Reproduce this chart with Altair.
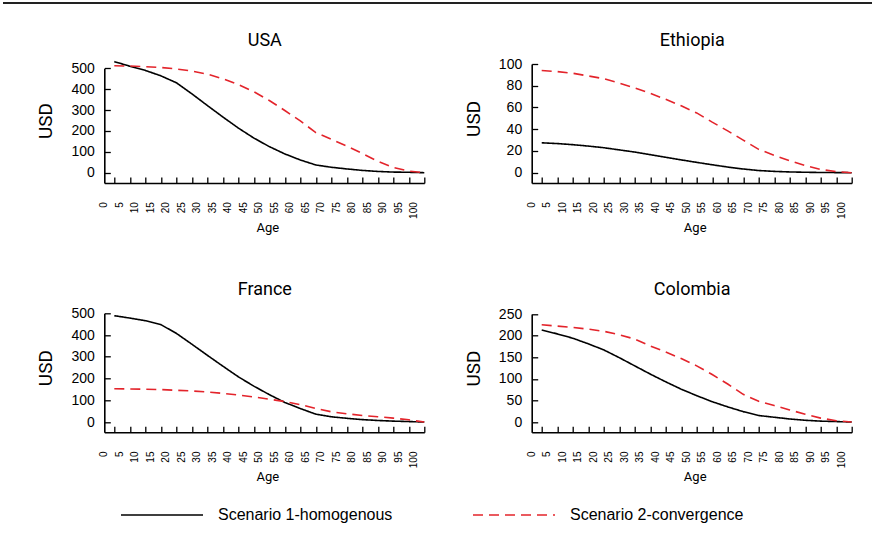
import altair as alt
import pandas as pd

# Age groups (x positions of every point and every x tick)
ages = [0, 5, 10, 15, 20, 25, 30, 35, 40, 45, 50, 55, 60, 65, 70, 75, 80, 85, 90, 95, 100]
scenarios = ["Scenario 1-homogenous", "Scenario 2-convergence"]

# USD by age, per country and scenario
usa_s1 = [532, 510, 490, 464, 431, 378, 322, 267, 214, 166, 125, 90, 61, 37, 26, 18, 11, 6, 3, 2, 0]
usa_s2 = [512, 511, 508, 504, 497, 487, 472, 450, 422, 388, 346, 298, 248, 192, 160, 128, 92, 55, 25, 8, 0]
eth_s1 = [27.5, 26.8, 25.8, 24.5, 23.0, 21.0, 19.0, 16.6, 14.2, 11.8, 9.5, 7.3, 5.2, 3.4, 2.0, 1.2, 0.7, 0.4, 0.2, 0.1, 0.0]
eth_s2 = [94, 93, 91.5, 89, 86.5, 82.5, 78, 73, 67.5, 61.5, 55, 46.5, 38.5, 30, 21.5, 16, 11, 6.5, 3, 1, 0]
fra_s1 = [489, 478, 466, 448, 408, 358, 307, 257, 208, 165, 126, 90, 62, 36, 24, 17, 11, 7, 4, 2, 0]
fra_s2 = [153, 152, 151, 149, 146, 143, 138, 132, 124, 115, 105, 94, 80, 62, 47, 38, 30, 24, 18, 10, 0]
col_s1 = [213, 204, 194, 181, 167, 149, 130, 111, 93, 76, 61, 47, 35, 24, 15, 11, 7, 4, 2, 1, 0]
col_s2 = [225, 222, 219, 215, 210, 202, 192, 176, 162, 147, 130, 110, 88, 64, 48, 38, 28, 18, 9, 3, 0]

countries = ["USA", "Ethiopia", "France", "Colombia"]
y_tops = [500, 100, 500, 250]
y_steps = [100, 20, 100, 50]

# Layout, in pixels
W, H = 320, 119          # plot area of each panel
X_GAP = 10               # y axis line to the first x tick
Y_GAP = 10.3             # y = 0 to the x axis line
LEFT, TOP = 104.3, 64    # top-left corner of the first panel
COL_SPACING = 107.4
ROW_SPACING = 130.3
TOP_TICK_PX = [4.3, 0, 0, 0.7]  # pixel position of the highest y tick

SANS = "Liberation Sans, Arial, sans-serif"
HEAD = "Roboto, Liberation Sans, sans-serif"
RED = "#e3242b"

x_per = (W - X_GAP) / 100.0
x_lo = -X_GAP / x_per

legend = alt.Legend(
    title=None, orient="none", legendX=120 - LEFT, legendY=515 - TOP - 42,
    direction="horizontal", symbolType="stroke", symbolSize=82 * 82,
    symbolStrokeWidth=1.5, labelFontSize=16, labelFont=SANS, labelOffset=14,
    labelLimit=400, columnPadding=77, padding=0, labelColor="#000",
)
color = alt.Color("Scenario:N", scale=alt.Scale(domain=scenarios, range=["#000000", RED]), legend=legend)
dash = alt.StrokeDash("Scenario:N", scale=alt.Scale(domain=scenarios, range=[[1, 0], [10, 6]]), legend=legend)


def panel(name, s1, s2, top, step, top_px):
    n = len(ages)
    df = pd.DataFrame({
        "Age": ages + ages,
        "USD": s1 + s2,
        "Scenario": [scenarios[0]] * n + [scenarios[1]] * n,
    })
    y0 = H - Y_GAP
    y_lo = -Y_GAP * top / (y0 - top_px)
    yticks = list(range(0, top + 1, step))
    xs = alt.Scale(domain=[x_lo, 100], nice=False, zero=False)
    ys = alt.Scale(domain=[y_lo, top], range=[H, top_px], nice=False, zero=False)
    base = alt.Chart(df)

    # inward ticks and axis lines (plus the panel title)
    frame = base.mark_line(opacity=0).encode(
        x=alt.X("Age:Q", scale=xs, axis=alt.Axis(
            orient="top", offset=-H, values=ages, labels=False, ticks=True,
            tickSize=6, domain=True, grid=False, title=name, titleX=W / 2,
            titleY=-H - 19, titleAlign="center", titleBaseline="alphabetic",
            titleAngle=0, titleFont=HEAD, titleFontSize=18,
            titleFontWeight="normal")),
        y=alt.Y("USD:Q", scale=ys, axis=alt.Axis(
            orient="right", offset=-W, values=yticks, labels=False,
            tickSize=6, domain=True, grid=False, title=None)),
        detail="Scenario:N",
    )

    # the two scenario curves, with the labelled axes
    lines = base.mark_line(strokeWidth=1.6).encode(
        x=alt.X("Age:Q", scale=xs, axis=alt.Axis(
            orient="bottom", values=ages, ticks=False, tickSize=0, domain=False,
            grid=False, labelAngle=270, labelPadding=18.7, labelOffset=-10.7,
            labelFontSize=10, labelFlush=False, labelOverlap=False,
            title="Age", titleX=W / 2 + 3, titleY=48, titleFontSize=13,
            titleFont=HEAD, titleFontWeight="normal", titleBaseline="alphabetic")),
        y=alt.Y("USD:Q", scale=ys, axis=alt.Axis(
            orient="left", values=yticks, ticks=False, tickSize=0, domain=False,
            grid=False, labelPadding=10, labelFontSize=14, labelFlush=False,
            title="USD", titleX=-58.5, titleY=(top_px + y0) / 2, titleAngle=270,
            titleAlign="center", titleBaseline="middle", titleFont=HEAD,
            titleFontSize=19, titleFontWeight="normal")),
        color=color,
        strokeDash=dash,
    )
    return frame, lines


series = [(usa_s1, usa_s2), (eth_s1, eth_s2), (fra_s1, fra_s2), (col_s1, col_s2)]
panels = []
for i, name in enumerate(countries):
    frame, lines = panel(name, series[i][0], series[i][1], y_tops[i], y_steps[i], TOP_TICK_PX[i])
    layers = [frame, lines]
    if i == 0:
        # page rule along the top edge of the figure
        edge = alt.Chart(pd.DataFrame({"edge": [0]})).mark_rule(color="#222", strokeWidth=2).encode(
            x=alt.value(3 - LEFT), x2=alt.value(872 - LEFT), y=alt.value(3 - TOP))
        layers.append(edge)
    panels.append(
        alt.layer(*layers)
        .resolve_axis(x="independent", y="independent")
        .properties(width=W, height=H)
    )

chart = (
    alt.concat(*panels, columns=2, spacing={"row": ROW_SPACING, "column": COL_SPACING}, bounds="flush")
    .properties(
        padding={"left": LEFT, "top": TOP, "right": 872 - LEFT, "bottom": 548 - TOP},
        autosize=alt.AutoSizeParams(type="none"),
    )
    .configure_view(stroke=None)
    .configure_axis(
        domainColor="#000", tickColor="#000", labelColor="#000", titleColor="#000",
        labelFont=SANS, titleFont=SANS, domainWidth=1.6, tickWidth=1.3,
    )
)

chart.save("out.html", embed_options={"renderer": "svg", "actions": False})
